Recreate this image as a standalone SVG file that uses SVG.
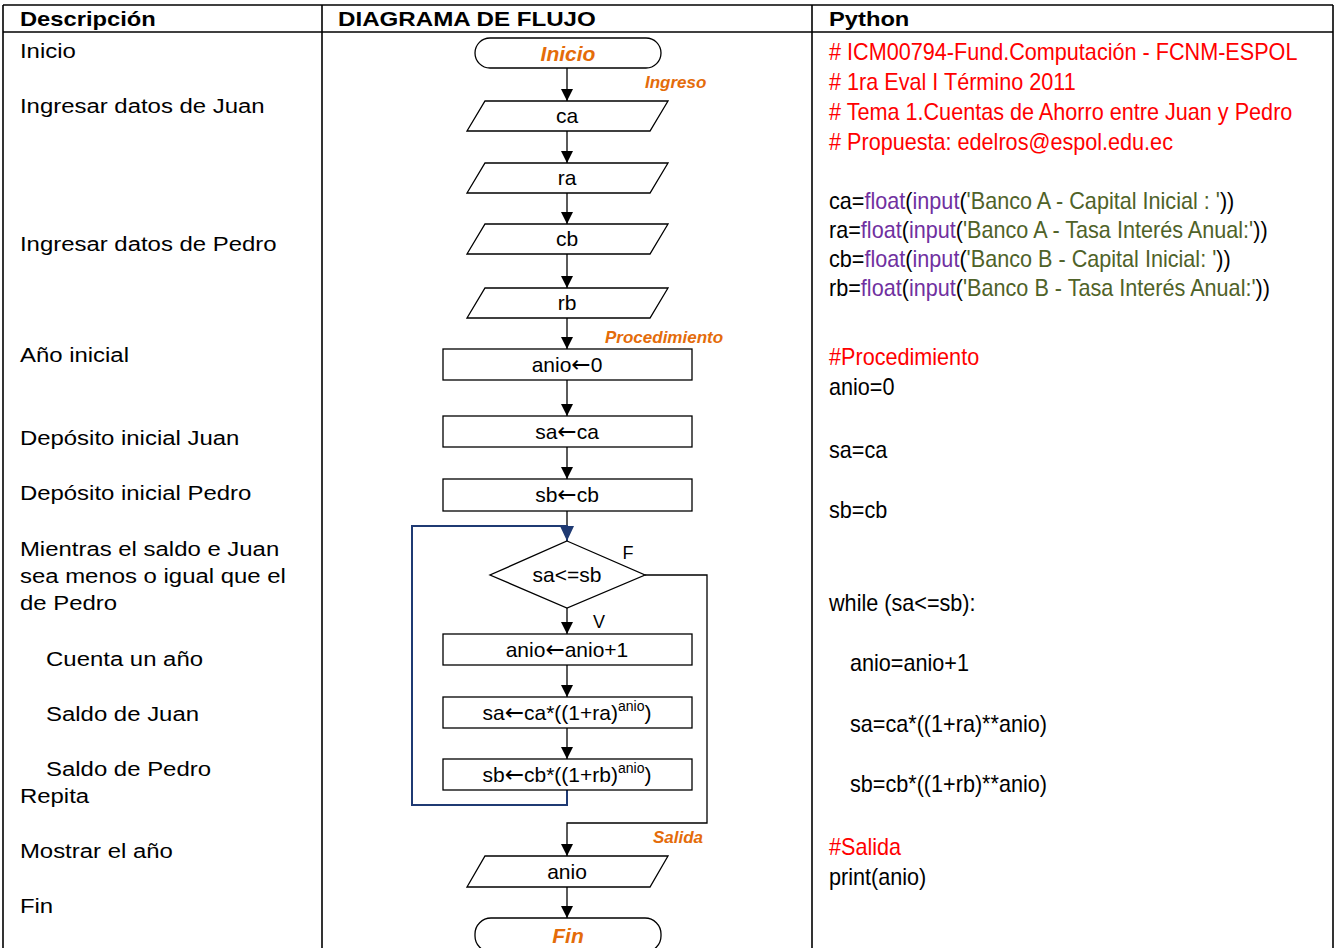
<svg xmlns="http://www.w3.org/2000/svg" width="1336" height="948" viewBox="0 0 1336 948">
<style>
.grid{stroke:#000;stroke-width:1.6;fill:none}
.shape{fill:#fff;stroke:#000;stroke-width:1.3}
.hdr{font-family:"Liberation Sans",Arial,sans-serif;font-weight:bold;font-size:21px;fill:#000}
.desc{font-family:"Liberation Sans",Arial,sans-serif;font-size:21px;fill:#000}
.py{font-family:"Liberation Sans",Arial,sans-serif;font-size:23px;fill:#000}
.fc{font-family:"Liberation Sans",Arial,sans-serif;font-size:21px;fill:#000;text-anchor:middle}
.ar{font-family:"DejaVu Sans",sans-serif;font-size:23px}
.lbl{font-family:"Liberation Sans",Arial,sans-serif;font-size:17px;font-weight:bold;font-style:italic;fill:#E46C0A}
.term{font-family:"Liberation Sans",Arial,sans-serif;font-size:21px;font-weight:bold;font-style:italic;fill:#E46C0A;text-anchor:middle}
.red{fill:#FF0000}
.pur{fill:#7030A0}
.grn{fill:#4F6228}
.conn{stroke:#000;stroke-width:1.3;fill:none}
.loop{stroke:#1F3A73;stroke-width:2;fill:none}
</style>
<defs>
<marker id="ah" markerUnits="userSpaceOnUse" markerWidth="12" markerHeight="12" refX="12" refY="6" orient="auto">
<path d="M0,0 L12,6 L0,12 z" fill="#000"/>
</marker>
<marker id="ahb" markerUnits="userSpaceOnUse" markerWidth="16" markerHeight="14" refX="15" refY="7" orient="auto">
<path d="M0,0 L15,7 L0,14 z" fill="#1F3A73"/>
</marker>
</defs>
<rect width="1336" height="948" fill="#fff"/>

<g id="table">
<line class="grid" x1="3" y1="5" x2="1333" y2="5"/>
<line class="grid" x1="3" y1="32" x2="1333" y2="32"/>
<line class="grid" x1="3" y1="5" x2="3" y2="948"/>
<line class="grid" x1="322" y1="5" x2="322" y2="948"/>
<line class="grid" x1="812" y1="5" x2="812" y2="948"/>
<line class="grid" x1="1333" y1="5" x2="1333" y2="948"/>
<text class="hdr" transform="translate(20,26) scale(1.13,1)">Descripción</text>
<text class="hdr" transform="translate(338,26) scale(1.15,1)">DIAGRAMA DE FLUJO</text>
<text class="hdr" transform="translate(829,26) scale(1.13,1)">Python</text>
</g>

<g id="descripcion" transform="scale(1.14,1)">
<text class="desc" x="17.5" y="58">Inicio</text>
<text class="desc" x="17.5" y="113">Ingresar datos de Juan</text>
<text class="desc" x="17.5" y="251">Ingresar datos de Pedro</text>
<text class="desc" x="17.5" y="362">Año inicial</text>
<text class="desc" x="17.5" y="445">Depósito inicial Juan</text>
<text class="desc" x="17.5" y="500">Depósito inicial Pedro</text>
<text class="desc" x="17.5" y="556">Mientras el saldo e Juan</text>
<text class="desc" x="17.5" y="583">sea menos o igual que el</text>
<text class="desc" x="17.5" y="610">de Pedro</text>
<text class="desc" x="40.4" y="666">Cuenta un año</text>
<text class="desc" x="40.4" y="721">Saldo de Juan</text>
<text class="desc" x="40.4" y="776">Saldo de Pedro</text>
<text class="desc" x="17.5" y="803">Repita</text>
<text class="desc" x="17.5" y="858">Mostrar el año</text>
<text class="desc" x="17.5" y="913">Fin</text>
</g>

<g id="python" transform="translate(829,0) scale(0.94,1)">
<text class="py red" x="0" y="60"># ICM00794-Fund.Computación - FCNM-ESPOL</text>
<text class="py red" x="0" y="90"># 1ra Eval I Término 2011</text>
<text class="py red" x="0" y="120"># Tema 1.Cuentas de Ahorro entre Juan y Pedro</text>
<text class="py red" x="0" y="150"># Propuesta: edelros@espol.edu.ec</text>
<text class="py" x="0" y="209">ca=<tspan class="pur">float</tspan>(<tspan class="pur">input</tspan>(<tspan class="grn">'Banco A - Capital Inicial : '</tspan>))</text>
<text class="py" x="0" y="238">ra=<tspan class="pur">float</tspan>(<tspan class="pur">input</tspan>(<tspan class="grn">'Banco A - Tasa Interés Anual:'</tspan>))</text>
<text class="py" x="0" y="267">cb=<tspan class="pur">float</tspan>(<tspan class="pur">input</tspan>(<tspan class="grn">'Banco B - Capital Inicial: '</tspan>))</text>
<text class="py" x="0" y="296">rb=<tspan class="pur">float</tspan>(<tspan class="pur">input</tspan>(<tspan class="grn">'Banco B - Tasa Interés Anual:'</tspan>))</text>
<text class="py red" x="0" y="365">#Procedimiento</text>
<text class="py" x="0" y="395">anio=0</text>
<text class="py" x="0" y="458">sa=ca</text>
<text class="py" x="0" y="518">sb=cb</text>
<text class="py" x="0" y="611">while (sa&lt;=sb):</text>
<text class="py" x="22.3" y="671">anio=anio+1</text>
<text class="py" x="22.3" y="732">sa=ca*((1+ra)**anio)</text>
<text class="py" x="22.3" y="792">sb=cb*((1+rb)**anio)</text>
<text class="py red" x="0" y="855">#Salida</text>
<text class="py" x="0" y="885">print(anio)</text>
</g>

<g id="connectors">
<line class="conn" x1="567" y1="68" x2="567" y2="101" marker-end="url(#ah)"/>
<line class="conn" x1="567" y1="131" x2="567" y2="163" marker-end="url(#ah)"/>
<line class="conn" x1="567" y1="193" x2="567" y2="224" marker-end="url(#ah)"/>
<line class="conn" x1="567" y1="254" x2="567" y2="288" marker-end="url(#ah)"/>
<line class="conn" x1="567" y1="318" x2="567" y2="349" marker-end="url(#ah)"/>
<line class="conn" x1="567" y1="380" x2="567" y2="416" marker-end="url(#ah)"/>
<line class="conn" x1="567" y1="447" x2="567" y2="479" marker-end="url(#ah)"/>
<line class="conn" x1="567" y1="511" x2="567" y2="527"/>
<line class="conn" x1="567" y1="608" x2="567" y2="634" marker-end="url(#ah)"/>
<line class="conn" x1="567" y1="665" x2="567" y2="697" marker-end="url(#ah)"/>
<line class="conn" x1="567" y1="728" x2="567" y2="759" marker-end="url(#ah)"/>
<polyline class="loop" points="567,790 567,805 412,805 412,526 567,526 567,541" marker-end="url(#ahb)"/>
<polyline class="conn" points="645,575 707,575 707,823 567,823 567,856" marker-end="url(#ah)"/>
<line class="conn" x1="567" y1="887" x2="567" y2="918" marker-end="url(#ah)"/>
<text class="fc" x="628" y="559" style="font-size:18px">F</text>
<text class="fc" x="599" y="628" style="font-size:18px">V</text>
<text class="lbl" x="645" y="88">Ingreso</text>
<text class="lbl" x="605" y="343">Procedimiento</text>
<text class="lbl" x="653" y="843">Salida</text>
</g>

<g id="n-inicio">
<rect class="shape" x="475" y="38" width="186" height="30" rx="15"/>
<text class="term" x="568" y="61">Inicio</text>
</g>
<g id="n-ca">
<polygon class="shape" points="485,101 668,101 650,131 467,131"/>
<text class="fc" x="567" y="123">ca</text>
</g>
<g id="n-ra">
<polygon class="shape" points="485,163 668,163 650,193 467,193"/>
<text class="fc" x="567" y="185">ra</text>
</g>
<g id="n-cb">
<polygon class="shape" points="485,224 668,224 650,254 467,254"/>
<text class="fc" x="567" y="246">cb</text>
</g>
<g id="n-rb">
<polygon class="shape" points="485,288 668,288 650,318 467,318"/>
<text class="fc" x="567" y="310">rb</text>
</g>
<g id="n-anio0">
<rect class="shape" x="443" y="349" width="249" height="31"/>
<text class="fc" x="567" y="372">anio<tspan class="ar">←</tspan>0</text>
</g>
<g id="n-saca">
<rect class="shape" x="443" y="416" width="249" height="31"/>
<text class="fc" x="567" y="439">sa<tspan class="ar">←</tspan>ca</text>
</g>
<g id="n-sbcb">
<rect class="shape" x="443" y="479" width="249" height="32"/>
<text class="fc" x="567" y="502">sb<tspan class="ar">←</tspan>cb</text>
</g>
<g id="n-cond">
<polygon class="shape" points="567,541 645,575 567,608 490,575"/>
<text class="fc" x="567" y="582">sa&lt;=sb</text>
</g>
<g id="n-inc">
<rect class="shape" x="443" y="634" width="249" height="31"/>
<text class="fc" x="567" y="657">anio<tspan class="ar">←</tspan>anio+1</text>
</g>
<g id="n-sa">
<rect class="shape" x="443" y="697" width="249" height="31"/>
<text class="fc" x="567" y="720">sa<tspan class="ar">←</tspan>ca*((1+ra)<tspan dy="-9" style="font-size:14px">anio</tspan><tspan dy="9">)</tspan></text>
</g>
<g id="n-sb">
<rect class="shape" x="443" y="759" width="249" height="31"/>
<text class="fc" x="567" y="782">sb<tspan class="ar">←</tspan>cb*((1+rb)<tspan dy="-9" style="font-size:14px">anio</tspan><tspan dy="9">)</tspan></text>
</g>
<g id="n-out">
<polygon class="shape" points="485,856 668,856 650,887 467,887"/>
<text class="fc" x="567" y="879">anio</text>
</g>
<g id="n-fin">
<rect class="shape" x="475" y="918" width="186" height="34" rx="16"/>
<text class="term" x="568" y="943">Fin</text>
</g>
</svg>
